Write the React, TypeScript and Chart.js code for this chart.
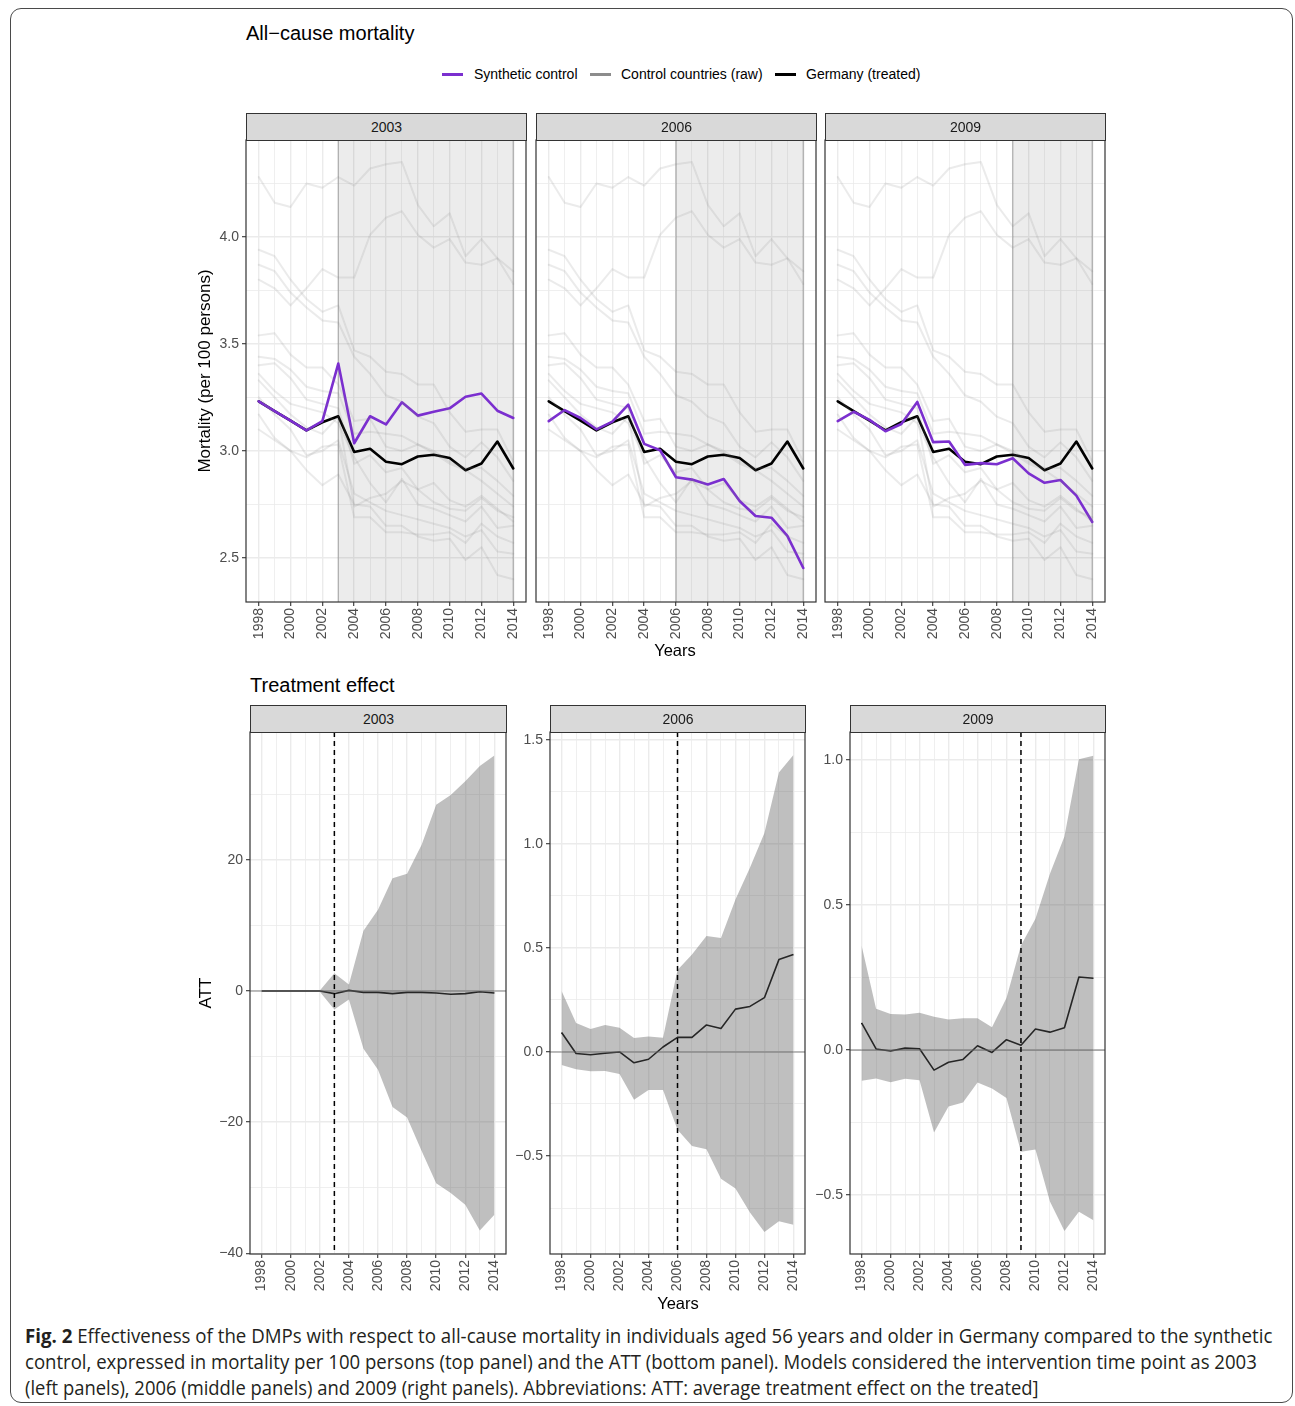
import React, { useEffect, useLayoutEffect, useRef } from "react";
import { Chart, registerables } from "chart.js";

Chart.register(...registerables);
Chart.defaults.font.family = "'Liberation Sans', Arial, Helvetica, sans-serif";

// ---------------- DATA ----------------
const years = [1998, 1999, 2000, 2001, 2002, 2003, 2004, 2005, 2006, 2007, 2008, 2009, 2010, 2011, 2012, 2013, 2014];
const treatmentYears = [2003, 2006, 2009];
const topYTicks = [2.5, 2.75, 3.0, 3.25, 3.5, 3.75, 4.0, 4.25];
const att2003Ticks = [-40, -30, -20, -10, 0, 10, 20, 30];
const att2006Ticks = [-0.75, -0.5, -0.25, 0, 0.25, 0.5, 0.75, 1.0, 1.25, 1.5];
const att2009Ticks = [-0.5, -0.25, 0, 0.25, 0.5, 0.75, 1.0];

const germany = [3.232, 3.186, 3.142, 3.096, 3.134, 3.162, 2.995, 3.01, 2.949, 2.938, 2.974, 2.982, 2.967, 2.91, 2.941, 3.044, 2.918];
const synth2003 = [3.232, 3.186, 3.142, 3.096, 3.139, 3.408, 3.036, 3.162, 3.124, 3.227, 3.165, 3.183, 3.199, 3.253, 3.268, 3.188, 3.154];
const synth2006 = [3.139, 3.191, 3.154, 3.101, 3.137, 3.216, 3.033, 3.003, 2.877, 2.866, 2.843, 2.869, 2.766, 2.696, 2.688, 2.603, 2.453];
const synth2009 = [3.139, 3.183, 3.145, 3.092, 3.126, 3.229, 3.041, 3.044, 2.935, 2.943, 2.938, 2.966, 2.895, 2.851, 2.864, 2.791, 2.668];

const ctrl01 = [4.28, 4.16, 4.14, 4.25, 4.23, 4.28, 4.24, 4.32, 4.34, 4.35, 4.15, 4.05, 4.11, 3.91, 3.99, 3.9, 3.84];
const ctrl02 = [3.8, 3.76, 3.68, 3.76, 3.85, 3.81, 3.81, 4.01, 4.09, 4.12, 4.01, 3.95, 3.99, 3.88, 3.87, 3.9, 3.78];
const ctrl03 = [3.94, 3.91, 3.8, 3.71, 3.65, 3.68, 3.47, 3.44, 3.37, 3.36, 3.31, 3.31, 3.18, 3.09, 3.1, 3.1, 2.95];
const ctrl04 = [3.87, 3.84, 3.74, 3.67, 3.61, 3.6, 3.44, 3.36, 3.26, 3.23, 3.16, 3.13, 3.02, 2.97, 3.04, 2.97, 2.86];
const ctrl05 = [3.54, 3.55, 3.45, 3.39, 3.39, 3.31, 3.14, 3.15, 3.02, 3.0, 3.03, 2.99, 2.94, 2.91, 2.86, 2.8, 2.74];
const ctrl06 = [3.44, 3.43, 3.38, 3.3, 3.28, 3.27, 3.08, 3.09, 3.08, 3.07, 3.03, 3.0, 2.95, 2.92, 2.92, 2.86, 2.79];
const ctrl07 = [3.4, 3.41, 3.34, 3.24, 3.22, 3.2, 2.94, 2.98, 2.9, 2.92, 2.82, 2.85, 2.77, 2.74, 2.79, 2.73, 2.67];
const ctrl08 = [3.36, 3.28, 3.22, 3.2, 3.18, 3.13, 2.97, 2.85, 2.76, 2.87, 2.75, 2.73, 2.7, 2.67, 2.74, 2.64, 2.65];
const ctrl09 = [3.33, 3.25, 3.17, 3.11, 3.08, 3.16, 2.74, 2.78, 2.8, 2.86, 2.82, 2.76, 2.73, 2.72, 2.78, 2.72, 2.69];
const ctrl10 = [3.17, 3.06, 3.0, 2.97, 3.02, 3.03, 2.69, 2.69, 2.62, 2.62, 2.61, 2.61, 2.62, 2.57, 2.66, 2.6, 2.57];
const ctrl11 = [3.1, 3.05, 3.0, 2.91, 2.84, 2.89, 2.75, 2.74, 2.65, 2.65, 2.6, 2.58, 2.59, 2.49, 2.55, 2.42, 2.4];
const ctrl12 = [3.25, 3.17, 3.1, 2.98, 3.0, 3.05, 2.8, 2.76, 2.72, 2.7, 2.68, 2.66, 2.64, 2.6, 2.63, 2.53, 2.52];
const controls = [ctrl01, ctrl02, ctrl03, ctrl04, ctrl05, ctrl06, ctrl07, ctrl08, ctrl09, ctrl10, ctrl11, ctrl12];

const att2003 = [0, 0, 0, 0, 0, -0.4, 0.1, -0.2, -0.2, -0.4, -0.2, -0.2, -0.3, -0.5, -0.4, -0.1, -0.3];
const hi2003 = [0.1, 0.1, 0.1, 0.1, 0.1, 2.7, 1.0, 9.2, 12.4, 17.2, 17.9, 22.3, 28.4, 29.9, 32.0, 34.3, 35.9];
const lo2003 = [-0.1, -0.1, -0.1, -0.1, -0.1, -2.8, -1.3, -8.8, -12.0, -17.7, -19.3, -24.4, -29.3, -30.8, -32.6, -36.5, -34.1];

const att2006 = [0.094, -0.007, -0.013, -0.006, 0.0, -0.052, -0.035, 0.024, 0.07, 0.07, 0.13, 0.113, 0.206, 0.219, 0.261, 0.444, 0.469];
const hi2006 = [0.293, 0.139, 0.111, 0.13, 0.117, 0.067, 0.074, 0.069, 0.394, 0.469, 0.557, 0.548, 0.733, 0.885, 1.052, 1.343, 1.428];
const lo2006 = [-0.063, -0.083, -0.093, -0.091, -0.106, -0.23, -0.183, -0.183, -0.374, -0.452, -0.467, -0.609, -0.656, -0.772, -0.865, -0.813, -0.83];

const att2009 = [0.094, 0.004, -0.003, 0.007, 0.005, -0.069, -0.042, -0.032, 0.015, -0.008, 0.036, 0.017, 0.073, 0.062, 0.077, 0.252, 0.248];
const hi2009 = [0.361, 0.143, 0.125, 0.123, 0.129, 0.115, 0.106, 0.11, 0.11, 0.079, 0.18, 0.361, 0.453, 0.608, 0.737, 1.003, 1.015];
const lo2009 = [-0.106, -0.098, -0.111, -0.099, -0.104, -0.284, -0.194, -0.181, -0.112, -0.132, -0.165, -0.35, -0.343, -0.522, -0.624, -0.557, -0.587];

// ---------------- STYLE ----------------
const PURPLE = "#7b2fcf";
const GRID = "#ebebeb";
const FONT = "'Liberation Sans', Arial, Helvetica, sans-serif";
const TICK_COLOR = "#4d4d4d";
const TICK_SIZE = 14;

const pts = (arr: number[]) => years.map((yr, i) => ({ x: yr, y: arr[i] }));
const isInt = (v: number) => Math.abs(v - Math.round(v)) < 1e-6;
const minus = (s: string) => s.replace("-", "\u2212");

const decoPlugin = {
  id: "deco",
  beforeDatasetsDraw(chart: any, _args: any, opts: any) {
    const { ctx, chartArea: a, scales } = chart;
    if (opts.shade) {
      const x0 = scales.x.getPixelForValue(opts.shadeFrom);
      const x1 = scales.x.getPixelForValue(opts.shadeTo);
      ctx.save();
      ctx.fillStyle = "rgba(0,0,0,0.075)";
      ctx.fillRect(x0, a.top, x1 - x0, a.bottom - a.top);
      ctx.strokeStyle = "rgba(0,0,0,0.22)";
      ctx.lineWidth = 1.5;
      ctx.beginPath();
      ctx.moveTo(x0, a.top);
      ctx.lineTo(x0, a.bottom);
      ctx.moveTo(x1, a.top);
      ctx.lineTo(x1, a.bottom);
      ctx.stroke();
      ctx.restore();
    }
  },
  afterDatasetDraw(chart: any, args: any, opts: any) {
    if (opts.hline && args.index === 1) {
      const { ctx, chartArea: a, scales } = chart;
      const y0 = scales.y.getPixelForValue(0);
      ctx.save();
      ctx.strokeStyle = "rgba(110,110,110,0.55)";
      ctx.lineWidth = 1.6;
      ctx.beginPath();
      ctx.moveTo(a.left, y0);
      ctx.lineTo(a.right, y0);
      ctx.stroke();
      ctx.restore();
    }
  },
  afterDatasetsDraw(chart: any, _args: any, opts: any) {
    const { ctx, chartArea: a, scales } = chart;
    if (opts.vline) {
      const xv = scales.x.getPixelForValue(opts.vlineAt);
      ctx.save();
      ctx.strokeStyle = "#000";
      ctx.lineWidth = 1.5;
      ctx.setLineDash([5, 4]);
      ctx.beginPath();
      ctx.moveTo(xv, a.top);
      ctx.lineTo(xv, a.bottom);
      ctx.stroke();
      ctx.restore();
    }
    ctx.save();
    ctx.strokeStyle = "#333";
    ctx.lineWidth = 1.2;
    ctx.strokeRect(a.left, a.top, a.right - a.left, a.bottom - a.top);
    ctx.restore();
  },
};

function xScale() {
  return {
    type: "linear",
    min: 1997.2,
    max: 2014.8,
    afterBuildTicks: (s: any) => {
      s.ticks = years.map((v) => ({ value: v }));
    },
    afterFit: (s: any) => {
      s.height = 50;
    },
    border: { display: false },
    grid: {
      color: GRID,
      lineWidth: (c: any) => (c.tick && c.tick.value % 2 === 0 ? 1.4 : 0.8),
      drawTicks: true,
      tickLength: 4,
      tickWidth: 1.1,
      tickColor: (c: any) => (c.tick && c.tick.value % 2 === 0 ? "#333" : "rgba(0,0,0,0)"),
    },
    ticks: {
      autoSkip: false,
      minRotation: 90,
      maxRotation: 90,
      padding: 2,
      color: TICK_COLOR,
      font: { size: TICK_SIZE, family: FONT },
      callback: (v: any) => (Number(v) % 2 === 0 ? String(v) : ""),
    },
  };
}

function yScale(opts: any) {
  const { min, max, ticks, isMajor, fmt, show, width, title, titlePad } = opts;
  return {
    type: "linear",
    min,
    max,
    afterBuildTicks: (s: any) => {
      s.ticks = ticks.map((v: number) => ({ value: v }));
    },
    afterFit: (s: any) => {
      s.width = width;
    },
    border: { display: false },
    grid: {
      color: GRID,
      lineWidth: (c: any) => (c.tick && isMajor(c.tick.value) ? 1.4 : 0.8),
      drawTicks: show,
      tickLength: 4,
      tickWidth: 1.1,
      tickColor: (c: any) => (c.tick && isMajor(c.tick.value) ? "#333" : "rgba(0,0,0,0)"),
    },
    ticks: {
      display: show,
      autoSkip: false,
      padding: 3,
      color: TICK_COLOR,
      font: { size: TICK_SIZE, family: FONT },
      callback: (v: any) => (isMajor(Number(v)) ? fmt(Number(v)) : ""),
    },
    title: title
      ? { display: true, text: title, color: "#000", font: { size: 17, family: FONT }, padding: { top: titlePad, bottom: 0 } }
      : { display: false },
  };
}

function topConfig(synth: number[], tYear: number, show: boolean, yWidth: number) {
  const datasets: any[] = [
    ...controls.map((c) => ({ data: pts(c), borderColor: "rgba(128,128,128,0.16)", borderWidth: 2, pointRadius: 0, fill: false })),
    { data: pts(synth), borderColor: PURPLE, borderWidth: 2.6, pointRadius: 0, fill: false },
    { data: pts(germany), borderColor: "#000", borderWidth: 2.6, pointRadius: 0, fill: false },
  ];
  return {
    type: "line",
    data: { datasets },
    options: {
      animation: false,
      responsive: false,
      maintainAspectRatio: false,
      elements: { line: { tension: 0, borderJoinStyle: "round", borderCapStyle: "round" } },
      layout: { padding: { top: 14, right: 10, left: 0, bottom: 0 } },
      plugins: {
        legend: { display: false },
        tooltip: { enabled: false },
        deco: { shade: true, shadeFrom: tYear, shadeTo: 2014, hline: false, vline: false, vlineAt: 0 },
      },
      scales: {
        x: xScale(),
        y: yScale({
          min: 2.294,
          max: 4.453,
          ticks: topYTicks,
          isMajor: (v: number) => isInt(v * 2),
          fmt: (v: number) => v.toFixed(1),
          show,
          width: yWidth,
          title: show ? "Mortality (per 100 persons)" : null,
          titlePad: 15,
        }),
      },
    },
    plugins: [decoPlugin],
  };
}

function attConfig(att: number[], hi: number[], lo: number[], tYear: number, yo: any) {
  const datasets: any[] = [
    { data: pts(hi), borderColor: "rgba(0,0,0,0)", borderWidth: 1, pointRadius: 0, fill: "+1", backgroundColor: "rgba(95,95,95,0.4)" },
    { data: pts(lo), borderColor: "rgba(0,0,0,0)", borderWidth: 1, pointRadius: 0, fill: false },
    { data: pts(att), borderColor: "#000", borderWidth: 1.6, pointRadius: 0, fill: false },
  ];
  return {
    type: "line",
    data: { datasets },
    options: {
      animation: false,
      responsive: false,
      maintainAspectRatio: false,
      elements: { line: { tension: 0, borderJoinStyle: "round" } },
      layout: { padding: { top: 14, right: 10, left: 0, bottom: 0 } },
      plugins: {
        legend: { display: false },
        tooltip: { enabled: false },
        deco: { shade: false, shadeFrom: 0, shadeTo: 0, hline: true, vline: true, vlineAt: tYear },
      },
      scales: { x: xScale(), y: yScale(yo) },
    },
    plugins: [decoPlugin],
  };
}

function ChartBox({ left, top, width, height, build }: any) {
  const ref = useRef<HTMLCanvasElement>(null);
  useEffect(() => {
    const chart = new Chart(ref.current as HTMLCanvasElement, build() as any);
    return () => chart.destroy();
  }, []);
  return <canvas ref={ref} width={width} height={height} style={{ position: "absolute", left, top, width, height }} />;
}

function Strip({ left, top, width, label }: any) {
  return (
    <div
      style={{
        position: "absolute",
        left,
        top,
        width,
        height: 28,
        boxSizing: "border-box",
        border: "1px solid #333",
        background: "#d9d9d9",
        fontFamily: FONT,
        fontSize: 14,
        color: "#1a1a1a",
        display: "flex",
        alignItems: "center",
        justifyContent: "center",
      }}
    >
      {label}
    </div>
  );
}

function Text({ left, top, size, children, center, style }: any) {
  return (
    <div
      style={{
        position: "absolute",
        left,
        top,
        fontFamily: FONT,
        fontSize: size,
        lineHeight: `${size * 1.2}px`,
        color: "#000",
        whiteSpace: "nowrap",
        transform: center ? "translate(-50%, -50%)" : "translateY(-50%)",
        ...style,
      }}
    >
      {children}
    </div>
  );
}

function LegendItem({ x, color, label, textX }: any) {
  return (
    <>
      <div style={{ position: "absolute", left: x, top: 72.5, width: 21, height: 3, background: color }} />
      <Text left={textX} top={74} size={14}>
        {label}
      </Text>
    </>
  );
}

const captionLines = [
  { bold: "Fig. 2", text: " Effectiveness of the DMPs with respect to all-cause mortality in individuals aged 56 years and older in Germany compared to the synthetic", w: 1247 },
  { bold: "", text: "control, expressed in mortality per 100 persons (top panel) and the ATT (bottom panel). Models considered the intervention time point as 2003", w: 1232 },
  { bold: "", text: "(left panels), 2006 (middle panels) and 2009 (right panels). Abbreviations: ATT: average treatment effect on the treated]", w: 1014 },
];

function Caption() {
  const refs = useRef<(HTMLDivElement | null)[]>([]);
  useLayoutEffect(() => {
    refs.current.forEach((el, i) => {
      if (!el) return;
      const nat = el.scrollWidth;
      el.style.transform = `scaleX(${captionLines[i].w / nat})`;
    });
  }, []);
  return (
    <>
      {captionLines.map((l, i) => (
        <div
          key={i}
          ref={(el) => {
            refs.current[i] = el;
          }}
          style={{
            position: "absolute",
            left: 25,
            top: 1323 + i * 26,
            height: 26,
            lineHeight: "26px",
            fontFamily: "'Open Sans', 'Noto Sans', sans-serif",
            fontSize: 19.5,
            color: "#231f20",
            whiteSpace: "nowrap",
            transformOrigin: "0 50%",
            display: "inline-block",
          }}
        >
          {l.bold ? <b>{l.bold}</b> : null}
          {l.text}
        </div>
      ))}
    </>
  );
}

export default function App() {
  return (
    <div style={{ position: "absolute", left: 0, top: 0, width: 1295, height: 1406, background: "#fff", overflow: "hidden" }}>
      <div
        style={{
          position: "absolute",
          left: 10,
          top: 8,
          width: 1283,
          height: 1395,
          boxSizing: "border-box",
          border: "1.5px solid #4a4a4a",
          borderRadius: 11,
        }}
      />
      <Text left={246} top={33} size={20}>
        All{"\u2212"}cause mortality
      </Text>
      <LegendItem x={442} color={PURPLE} label="Synthetic control" textX={474} />
      <LegendItem x={590} color="#8c8c8c" label="Control countries (raw)" textX={621} />
      <LegendItem x={775} color="#000" label="Germany (treated)" textX={806} />

      {/* Top panels */}
      <ChartBox left={180} top={126} width={356} height={526} build={() => topConfig(synth2003, treatmentYears[0], true, 66)} />
      <ChartBox left={530} top={126} width={296} height={526} build={() => topConfig(synth2006, treatmentYears[1], false, 6)} />
      <ChartBox left={819} top={126} width={296} height={526} build={() => topConfig(synth2009, treatmentYears[2], false, 6)} />
      <Strip left={246} top={113} width={281} label="2003" />
      <Strip left={536} top={113} width={281} label="2006" />
      <Strip left={825} top={113} width={281} label="2009" />
      <Text left={675} top={651} size={16.5} center>
        Years
      </Text>

      <Text left={250} top={685} size={20}>
        Treatment effect
      </Text>

      {/* Bottom panels */}
      <ChartBox
        left={180}
        top={718}
        width={336}
        height={586}
        build={() =>
          attConfig(att2003, hi2003, lo2003, treatmentYears[0], {
            min: -40.1,
            max: 39.5,
            ticks: att2003Ticks,
            isMajor: (v: number) => isInt(v / 20),
            fmt: (v: number) => minus(String(Math.round(v))),
            show: true,
            width: 70,
            title: "ATT",
            titlePad: 16,
          })
        }
      />
      <ChartBox
        left={505}
        top={718}
        width={310}
        height={586}
        build={() =>
          attConfig(att2006, hi2006, lo2006, treatmentYears[1], {
            min: -0.971,
            max: 1.538,
            ticks: att2006Ticks,
            isMajor: (v: number) => isInt(v * 2),
            fmt: (v: number) => minus(Math.abs(v) < 1e-9 ? "0.0" : v.toFixed(1)),
            show: true,
            width: 45,
            title: null,
            titlePad: 0,
          })
        }
      />
      <ChartBox
        left={805}
        top={718}
        width={310}
        height={586}
        build={() =>
          attConfig(att2009, hi2009, lo2009, treatmentYears[2], {
            min: -0.703,
            max: 1.097,
            ticks: att2009Ticks,
            isMajor: (v: number) => isInt(v * 2),
            fmt: (v: number) => minus(Math.abs(v) < 1e-9 ? "0.0" : v.toFixed(1)),
            show: true,
            width: 45,
            title: null,
            titlePad: 0,
          })
        }
      />
      <Strip left={250} top={705} width={257} label="2003" />
      <Strip left={550} top={705} width={256} label="2006" />
      <Strip left={850} top={705} width={256} label="2009" />
      <Text left={678} top={1304} size={16.5} center>
        Years
      </Text>

      <Caption />
    </div>
  );
}
